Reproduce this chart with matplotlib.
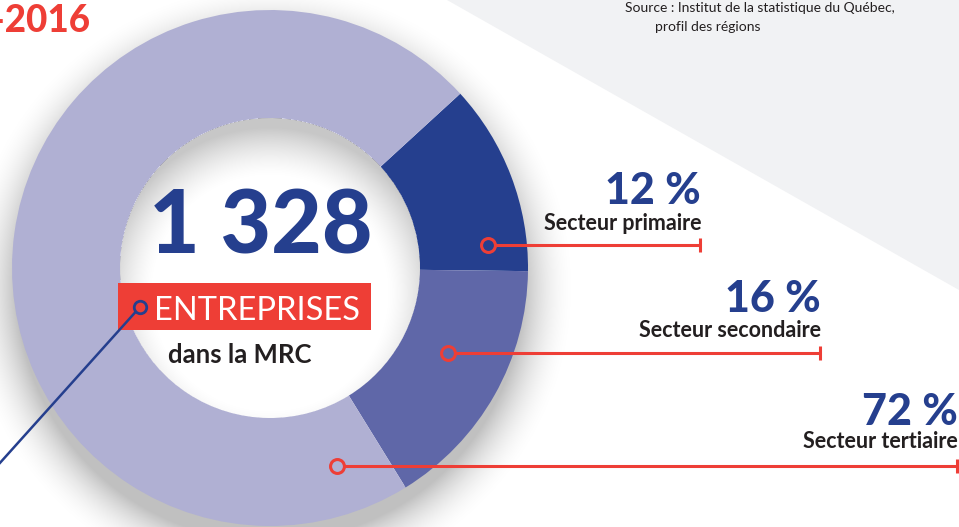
import numpy as np
import matplotlib
matplotlib.use("Agg")
import matplotlib.pyplot as plt
from matplotlib.patches import Polygon, Rectangle

# chart data
sectors = ["Secteur primaire", "Secteur secondaire", "Secteur tertiaire"]
shares = [12, 16, 72]
share_labels = ["12 %", "16 %", "72 %"]
total_firms = "1 328"
colors = ["#253f8e", "#5f67a8", "#b0b0d3"]

W, H = 959, 527
RED = "#ee3e36"
BLUE = "#253f8e"
DARK = "#231f20"
FONT = "Lato"

# donut geometry in pixels (y measured from top)
cx, cy_px = 270, 268
R_OUT, R_IN = 258, 150


def Y(y_px):
    # pixel row -> data y
    return H - y_px


fig = plt.figure(figsize=(W / 100, H / 100), dpi=100)
ax = fig.add_axes([0, 0, 1, 1])

# grey triangle in the corner
ax.add_patch(Polygon([(447, Y(0)), (W, Y(0)), (W, Y(290))], closed=True,
                     facecolor="#f1f2f4", edgecolor="none", zorder=0))

# soft shadows (outside the ring and on the inner disc)
xx, yy = np.meshgrid(np.arange(W) + 0.5, np.arange(H) + 0.5)
d_true = np.hypot(xx - cx, yy - cy_px)
d_out = np.hypot(xx - cx, yy - (cy_px + 20))
a_out = np.clip(1 - (d_out - (R_OUT - 5)) / 55, 0, 1) ** 2 * 0.25
a_out[d_true < R_OUT - 3] = 0
shadow = np.zeros((H, W, 4))
shadow[..., 3] = a_out
ax.imshow(shadow, extent=(0, W, 0, H), origin="upper", zorder=1,
          interpolation="bilinear")

d_in = np.hypot(xx - cx, yy - (cy_px + 25))
a_in = np.clip((d_in - (R_IN - 35)) / 50, 0, 1) ** 1.5 * 0.22
a_in[d_true >= R_IN] = 0
inner = np.zeros((H, W, 4))
inner[..., 3] = a_in
ax.imshow(inner, extent=(0, W, 0, H), origin="upper", zorder=3,
          interpolation="bilinear")

# donut
wedges, _ = ax.pie(shares, colors=colors, startangle=42.5, counterclock=False,
                   radius=R_OUT, center=(cx, Y(cy_px)),
                   wedgeprops=dict(width=R_OUT - R_IN, linewidth=0))
for w in wedges:
    w.set_zorder(2)

# centre text
ax.text(261, Y(253), total_firms, color=BLUE, fontsize=63, fontweight="black",
        family=FONT, ha="center", va="baseline", zorder=5)
ax.add_patch(Rectangle((118, Y(330)), 253, 47, facecolor=RED, edgecolor="none", zorder=4))
ax.text(257, Y(320), "ENTREPRISES", color="white", fontsize=23.5, family=FONT,
        ha="center", va="baseline", zorder=5)
ax.text(240, Y(363), "dans la MRC", color=DARK, fontsize=18.5, fontweight="bold",
        family=FONT, ha="center", va="baseline", zorder=5)

# blue pointer leaving the centre
ax.plot([140, -10], [Y(307), Y(474)], color=BLUE, lw=1.8, zorder=5,
        solid_capstyle="butt")
ax.plot(140, Y(307), marker="o", ms=9, mfc=RED, mec=BLUE, mew=2, zorder=6)

# sector call-outs
dot_x = [488, 448, 337]
line_y = [245, 353, 466]
end_x = [700, 820, 957]
pct_base = [204, 312, 425]
lab_base = [230, 337, 448]
for i in range(len(sectors)):
    ax.plot([dot_x[i] + 7, end_x[i]], [Y(line_y[i])] * 2, color=RED, lw=2.2,
            zorder=5, solid_capstyle="butt")
    ax.plot(dot_x[i], Y(line_y[i]), marker="o", ms=10, mfc="none", mec=RED,
            mew=2.2, zorder=6)
    ax.plot(end_x[i], Y(line_y[i]), marker="|", ms=10, mec=RED, mew=2.2, zorder=6)
    ax.text(end_x[i] + 1, Y(pct_base[i]), share_labels[i], color=BLUE,
            fontsize=31, fontweight="black", family=FONT, ha="right",
            va="baseline", zorder=5)
    ax.text(end_x[i] + 1, Y(lab_base[i]), sectors[i], color=DARK, fontsize=15.5,
            fontweight="bold", family=FONT, ha="right", va="baseline", zorder=5)

# title fragment (cut by the left edge, as in the original layout) and source
ax.text(90, Y(32), "-2016", color=RED, fontsize=26.5, fontweight="black",
        family=FONT, ha="right", va="baseline", zorder=5)
ax.text(625, Y(12), "Source : Institut de la statistique du Québec,", color=DARK,
        fontsize=10, family=FONT, ha="left", va="baseline", zorder=5)
ax.text(655, Y(31), "profil des régions", color=DARK, fontsize=10, family=FONT,
        ha="left", va="baseline", zorder=5)

ax.set_xlim(0, W)
ax.set_ylim(0, H)
ax.set_aspect("auto")
ax.axis("off")

fig.savefig("out.png", dpi=100, facecolor="white")
